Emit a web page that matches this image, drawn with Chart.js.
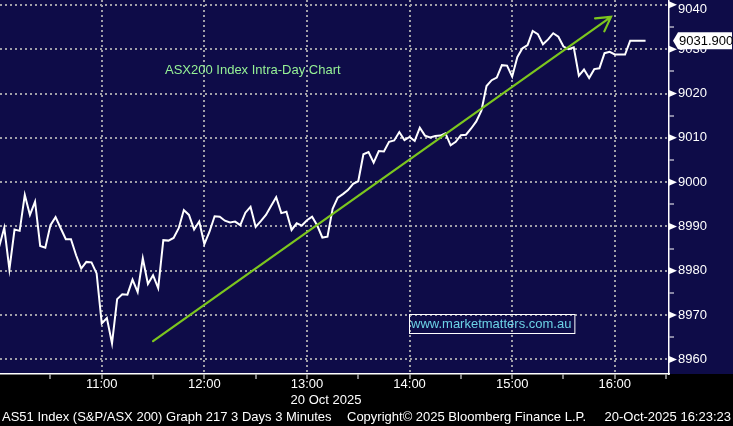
<!DOCTYPE html>
<html>
<head>
<meta charset="utf-8">
<script src="https://cdn.jsdelivr.net/npm/chart.js@4.4.0/dist/chart.umd.min.js"></script>
<style>
  html, body { margin: 0; padding: 0; background: #000; }
  #wrap { width: 733px; height: 426px; position: relative; }
</style>
</head>
<body>
<div id="wrap"><canvas id="grafico"></canvas></div>
<script>
// AS51 intraday, 3 minute bars from 10:00
const startMin = 600;
const stepMin = 3;
const values = [
  8985.4, 8989.7, 8980.3, 8989.3, 8989.0, 8997.1, 8992.6, 8995.6, 8985.6, 8985.2,
  8990.3, 8992.1, 8989.6, 8987.1, 8987.1, 8983.5, 8980.5, 8982.0, 8981.9, 8979.4,
  8968.1, 8969.3, 8963.6, 8973.6, 8974.7, 8974.6, 8978.0, 8975.2, 8982.8, 8977.0,
  8979.0, 8976.1, 8986.9, 8986.8, 8987.4, 8989.6, 8993.7, 8992.6, 8989.3, 8991.1,
  8986.0, 8988.8, 8992.3, 8992.2, 8991.3, 8990.9, 8991.1, 8990.3, 8993.1, 8994.4,
  8989.9, 8991.2, 8992.6, 8994.6, 8996.6, 8993.0, 8993.3, 8989.2, 8990.7, 8990.2,
  8991.4, 8992.2, 8990.2, 8987.5, 8987.7, 8994.0, 8996.5, 8997.3, 8998.2, 8999.6,
  9000.2, 9006.3, 9006.8, 9004.4, 9007.0, 9006.9, 9009.1, 9009.4, 9011.3, 9009.5,
  9010.2, 9009.3, 9012.3, 9010.5, 9010.1, 9010.4, 9010.5, 9011.0, 9008.3, 9009.1,
  9010.6, 9010.7, 9012.1, 9013.7, 9016.1, 9021.7, 9023.0, 9023.6, 9026.4, 9026.3,
  9023.8, 9028.2, 9030.2, 9030.9, 9034.1, 9033.4, 9031.1, 9032.2, 9033.6, 9032.8,
  9030.6, 9030.0, 9030.4, 9024.0, 9025.4, 9023.5, 9025.5, 9025.7, 9029.1, 9029.4,
  9028.8, 9028.8, 9028.8, 9031.9, 9031.9, 9031.9, 9031.9
];
const times = values.map((v, i) => startMin + i * stepMin);

const xTicks = [630, 660, 690, 720, 750, 780, 810, 840, 870, 900, 930, 960, 990];
const yTicks = [8960, 8965, 8970, 8975, 8980, 8985, 8990, 8995, 9000, 9005, 9010, 9015, 9020, 9025, 9030, 9035, 9040];
const yTopo = 9040; // label nudged down so it is not clipped

const arrowFrom = [690, 8964.1];
const arrowTo = [957.8, 9037.3];
const lastValue = 9031.9;

const titulo = 'ASX200 Index Intra-Day Chart';
const site = 'www.marketmatters.com.au';
const dataEixo = '20 Oct 2025';
const rodape = ['AS51 Index (S&P/ASX 200) Graph 217 3 Days 3 Minutes', 'Copyright\u00a9 2025 Bloomberg Finance L.P.', '20-Oct-2025 16:23:23'];

const fonte = '"Liberation Sans", Arial, sans-serif';
const azul = '#0e0c48';
const cinzaGrade = '#a0a0a8';
const verde = '#7cc61e';

function rotuloHora(m) {
  const h = Math.floor(m / 60);
  return (h < 10 ? '0' : '') + h + ':00';
}

function semMargem(s) {
  s.paddingTop = 0;
  s.paddingBottom = 0;
  s.paddingLeft = 0;
  s.paddingRight = 0;
}

const fundo = {
  id: 'fundo',
  beforeDraw(chart) {
    const { ctx, chartArea } = chart;
    ctx.save();
    ctx.fillStyle = '#000';
    ctx.fillRect(0, 0, chart.width, chart.height);
    ctx.fillStyle = azul;
    ctx.fillRect(0, 0, chart.width, chartArea.bottom);
    ctx.restore();
  }
};

const extras = {
  id: 'extras',
  afterDraw(chart) {
    const { ctx, chartArea } = chart;
    const sx = chart.scales.x, sy = chart.scales.y;
    ctx.save();

    // seta verde
    const x1 = sx.getPixelForValue(arrowFrom[0]), y1 = sy.getPixelForValue(arrowFrom[1]);
    const x2 = sx.getPixelForValue(arrowTo[0]), y2 = sy.getPixelForValue(arrowTo[1]);
    ctx.strokeStyle = verde;
    ctx.lineWidth = 2.2;
    ctx.lineCap = 'round';
    ctx.beginPath();
    ctx.moveTo(x1, y1);
    ctx.lineTo(x2, y2);
    const ang = Math.atan2(y2 - y1, x2 - x1);
    const cab = 16;
    ctx.moveTo(x2 - cab * Math.cos(ang - 0.52), y2 - cab * Math.sin(ang - 0.52));
    ctx.lineTo(x2, y2);
    ctx.lineTo(x2 - cab * Math.cos(ang + 0.52), y2 - cab * Math.sin(ang + 0.52));
    ctx.stroke();

    // titulo
    ctx.font = '13px ' + fonte;
    ctx.fillStyle = '#96f296';
    ctx.textBaseline = 'middle';
    ctx.textAlign = 'left';
    ctx.fillText(titulo, 165, 70);

    // caixa do site
    ctx.fillStyle = '#6cd2e6';
    ctx.fillText(site, 411, 324);
    const w = ctx.measureText(site).width;
    ctx.strokeStyle = '#ffffff';
    ctx.lineWidth = 1;
    ctx.strokeRect(409.5, 314.5, w + 5, 19);

    // marcas do eixo y
    ctx.fillStyle = '#ffffff';
    yTicks.forEach(v => {
      if (v % 10 !== 0) return;
      const y = sy.getPixelForValue(v);
      ctx.beginPath();
      ctx.moveTo(chartArea.right, y - 3.5);
      ctx.lineTo(chartArea.right + 8, y);
      ctx.lineTo(chartArea.right, y + 3.5);
      ctx.closePath();
      ctx.fill();
    });
    ctx.textAlign = 'left';
    ctx.fillText(String(yTopo), chartArea.right + 9, Math.max(sy.getPixelForValue(yTopo), 9));

    // ultimo valor
    const yv = sy.getPixelForValue(lastValue);
    const lx = chartArea.right + 4;
    ctx.beginPath();
    ctx.moveTo(lx, yv);
    ctx.lineTo(lx + 5, yv - 8.5);
    ctx.lineTo(chart.width - 1, yv - 8.5);
    ctx.lineTo(chart.width - 1, yv + 8.5);
    ctx.lineTo(lx + 5, yv + 8.5);
    ctx.closePath();
    ctx.fillStyle = '#ffffff';
    ctx.fill();
    ctx.fillStyle = '#000000';
    ctx.font = '13px ' + fonte;
    ctx.fillText(lastValue.toFixed(3), lx + 6, yv + 1);

    // data e rodape
    ctx.fillStyle = '#ffffff';
    ctx.textAlign = 'center';
    ctx.fillText(dataEixo, 326, 400);
    ctx.textAlign = 'left';
    ctx.fillText(rodape[0], 2, 417);
    ctx.fillText(rodape[1], 347, 417);
    ctx.textAlign = 'right';
    ctx.fillText(rodape[2], 731, 417);
    ctx.restore();
  }
};

window.onload = function () {
  const ctx = document.getElementById('grafico');
  new Chart(ctx, {
    type: 'line',
    data: {
      datasets: [{
        data: times.map((t, i) => ({ x: t, y: values[i] })),
        borderColor: '#ffffff',
        borderWidth: 2,
        pointRadius: 0,
        tension: 0
      }]
    },
    options: {
      responsive: true,
      maintainAspectRatio: false,
      animation: false,
      devicePixelRatio: 1,
      layout: { padding: 0 },
      plugins: {
        legend: { display: false },
        tooltip: { enabled: false }
      },
      scales: {
        x: {
          type: 'linear',
          min: 600.5,
          max: 991.7,
          afterBuildTicks: s => { s.ticks = xTicks.map(v => ({ value: v })); },
          afterFit: s => { s.height = 52; semMargem(s); },
          ticks: {
            color: '#ffffff',
            font: { family: fonte, size: 13 },
            padding: -2,
            maxRotation: 0,
            autoSkip: false,
            callback: v => (v % 60 === 0 ? rotuloHora(v) : '')
          },
          grid: {
            color: c => (c.tick && c.tick.value % 60 === 0 ? cinzaGrade : 'transparent'),
            lineWidth: 2,
            tickColor: '#ffffff',
            tickWidth: 1,
            tickLength: 5
          },
          border: { display: true, color: '#ffffff', width: 1.5, dash: [2, 3] }
        },
        y: {
          position: 'right',
          min: 8956.7,
          max: 9041.1,
          afterBuildTicks: s => { s.ticks = yTicks.map(v => ({ value: v })); },
          afterFit: s => { s.width = 64; semMargem(s); },
          ticks: {
            color: '#ffffff',
            font: { family: fonte, size: 13 },
            padding: 4,
            autoSkip: false,
            callback: v => (v % 10 === 0 && v !== yTopo ? String(v) : '')
          },
          grid: {
            color: c => (c.tick && c.tick.value % 10 === 0 ? cinzaGrade : 'transparent'),
            lineWidth: 2,
            tickColor: '#ffffff',
            tickWidth: 1,
            tickLength: 5
          },
          border: { display: true, color: '#ffffff', width: 1.5, dash: [2, 3] }
        }
      }
    },
    plugins: [fundo, extras]
  });
};
</script>
</body>
</html>
